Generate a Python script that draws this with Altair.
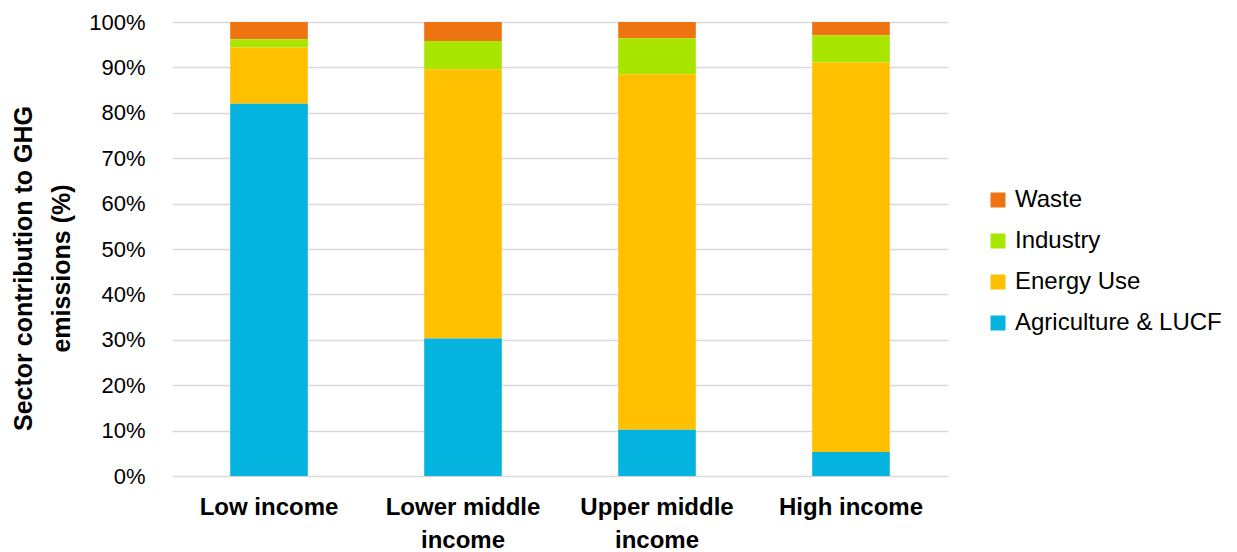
import altair as alt
import pandas as pd

categories = ["Low income", "Lower middle income", "Upper middle income", "High income"]
sectors = ["Waste", "Industry", "Energy Use", "Agriculture & LUCF"]
colors = ["#EE7411", "#A8E600", "#FFC000", "#05B4DE"]
stack_order = [4, 3, 2, 1]

agriculture = [82.0, 30.3, 10.2, 5.3]
energy = [12.4, 59.3, 78.3, 85.8]
industry = [1.8, 6.2, 7.9, 6.0]
waste = [3.8, 4.2, 3.6, 2.9]

values = {"Waste": waste, "Industry": industry, "Energy Use": energy, "Agriculture & LUCF": agriculture}
rows = []
for s, o in zip(sectors, stack_order):
    for c, v in zip(categories, values[s]):
        rows.append({"Income": c, "Sector": s, "Value": v, "order": o})
df = pd.DataFrame(rows)

FONT = "Liberation Sans"

chart = alt.Chart(df).mark_bar().encode(
    x=alt.X("Income:N", sort=categories,
            scale=alt.Scale(paddingInner=0.6, paddingOuter=0.3),
            axis=alt.Axis(title=None, labelAngle=0, labelFontWeight="bold", labelFontSize=24,
                          labelColor="#000000", ticks=False, domain=False, labelPadding=19,
                          labelFont=FONT, labelLineHeight=33, labelLimit=400,
                          labelExpr="datum.value == 'Lower middle income' ? ['Lower middle', 'income'] : datum.value == 'Upper middle income' ? ['Upper middle', 'income'] : datum.value")),
    y=alt.Y("Value:Q", stack="zero",
            scale=alt.Scale(domain=[0, 100], nice=False),
            axis=alt.Axis(title=["Sector contribution to GHG", "emissions (%)"], values=list(range(0, 101, 10)),
                          labelExpr="datum.value + '%'", labelFontSize=22, labelColor="#000000",
                          labelFont=FONT, titleFont=FONT, titleFontSize=25, titleFontWeight="bold",
                          titleColor="#000000", ticks=False, domain=False, labelPadding=27,
                          titlePadding=14, titleLineHeight=38, titleY=246, titleLimit=600,
                          grid=True, gridColor="#D9D9D9", gridWidth=1.5)),
    color=alt.Color("Sector:N", sort=sectors,
                    scale=alt.Scale(domain=sectors, range=colors),
                    legend=alt.Legend(title=None, orient="none", legendX=814, legendY=166,
                                      symbolType="square", symbolSize=225, symbolStrokeWidth=0,
                                      labelFontSize=24, labelFont=FONT, labelColor="#000000",
                                      labelLimit=400, rowPadding=17, labelOffset=5)),
    order=alt.Order("order:Q"),
).properties(
    width=776, height=454,
    autosize=alt.AutoSizeParams(type="none"),
    padding={"left": 172, "top": 22, "right": 289, "bottom": 76},
).configure_view(stroke=None)

chart.save("out.html", embed_options={"renderer": "svg", "actions": False})
